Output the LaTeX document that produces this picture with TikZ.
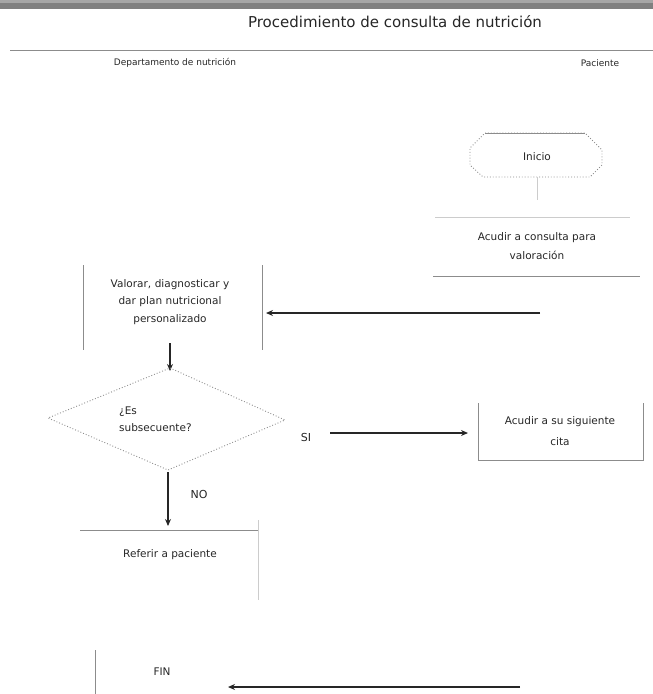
\documentclass[tikz,border=0pt]{standalone}
\usepackage{fontspec}
\setmainfont{DejaVu Sans}
\usetikzlibrary{arrows.meta}
\begin{document}
\begin{tikzpicture}[x=1pt,y=-1pt,
  txt/.style={font=\fontsize{10.5}{17.5}\selectfont, text=black!85, align=center, inner sep=0pt},
  side/.style={draw=black!45, line width=0.8pt},
  faint/.style={draw=black!20, line width=0.6pt},
  dots/.style={draw=black!45, line width=0.9pt, dotted},
  flow/.style={draw=black!85, line width=1.2pt, -{Stealth[length=7pt,width=6pt]}}]
\useasboundingbox (0,0) rectangle (653,694);
\fill[black!50] (0,0) rectangle (653,9);
\fill[black!35] (0,0) rectangle (653,3);
% title and lanes
\node[txt, font=\fontsize{15}{17}\selectfont] (title) at (395,22) {Procedimiento de consulta de nutrición};
\draw[side] (10,50) -- (653,50);
\node[txt, font=\fontsize{9}{11}\selectfont] (lane1) at (175,63) {Departamento de nutrición};
\node[txt, font=\fontsize{9}{11}\selectfont] (lane2) at (600,63) {Paciente};
% Inicio
\node[txt] (inicio) at (537,157) {Inicio};
\draw[dots] (485,133) -- (585,133) -- (602,150) -- (602,165) -- (590,177) -- (483,177) -- (470,165) -- (470,148) -- cycle;
\draw[side] (485,133) -- (585,133);
\coordinate (i1) at (537,177);
\coordinate (i2) at (537,200);
\draw[faint] (i1) -- (i2);
% Acudir a consulta
\node[txt, font=\fontsize{10.5}{19}\selectfont] (acudir) at (537,246) {Acudir a consulta para\\valoración};
\draw[faint] (435,217) -- (630,217);
\draw[side] (433,276) -- (640,276);
% arrow to Valorar
\coordinate (a1) at (540,313);
\coordinate (a2) at (266,313);
\draw[flow] (a1) -- (a2);
% Valorar
\node[txt, text width=170pt] (valorar) at (170,302) {Valorar, diagnosticar y\\dar plan nutricional\\personalizado};
\draw[side] (83,265) -- (83,350);
\draw[side] (262,265) -- (262,350);
\coordinate (v1) at (170,343);
\coordinate (v2) at (170,371);
\draw[flow] (v1) -- (v2);
% decision
\coordinate (dt) at (170,368);
\coordinate (dl) at (48,418);
\coordinate (dr) at (285,420);
\coordinate (db) at (168,470);
\draw[dots] (dt) -- (dr) -- (db) -- (dl) -- cycle;
\node[txt, align=left, anchor=west] (dec) at (119,419) {¿Es\\subsecuente?};
% SI branch
\node[txt, font=\fontsize{11}{14}\selectfont] (si) at (306,437) {SI};
\coordinate (s1) at (330,433);
\coordinate (s2) at (468,433);
\draw[flow] (s1) -- (s2);
\node[txt, font=\fontsize{10.5}{21}\selectfont] (cita) at (560,431) {Acudir a su siguiente\\cita};
\draw[side] (478,403) -- (478,460) -- (643,460) -- (643,403);
% NO branch
\coordinate (n1) at (168,472);
\coordinate (n2) at (168,526);
\draw[flow] (n1) -- (n2);
\node[txt, font=\fontsize{11}{14}\selectfont] (no) at (199,494) {NO};
\draw[side] (80,530) -- (258,530);
\draw[faint] (258,520) -- (258,600);
\node[txt] (referir) at (170,555) {Referir a paciente};
% FIN
\node[txt] (fin) at (162,672) {FIN};
\draw[side] (95,650) -- (95,694);
\coordinate (f1) at (520,687);
\coordinate (f2) at (228,687);
\draw[flow] (f1) -- (f2);
\end{tikzpicture}
\end{document}
